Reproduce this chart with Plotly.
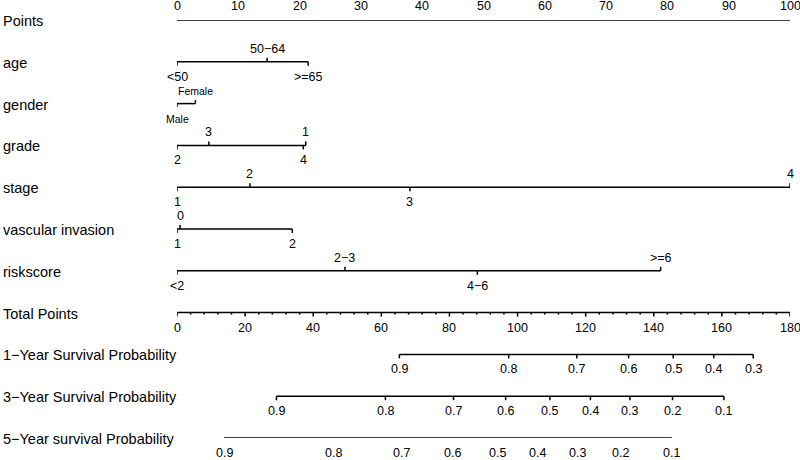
import plotly.graph_objects as go

# ---------------- data ----------------
row_names = ["Points", "age", "gender", "grade", "stage", "vascular invasion",
             "riskscore", "Total Points", "1−Year Survival Probability",
             "3−Year Survival Probability", "5−Year survival Probability"]

points_major = list(range(0, 101, 10))
points_minor = [i * 2.5 for i in range(0, 41)]

age_labels = ["<50", "50−64", ">=65"]
age_points = [0, 14.7, 21.4]
age_side = ["below", "above", "below"]

gender_labels = ["Male", "Female"]
gender_points = [0, 3.0]
gender_side = ["below", "above"]

grade_labels = ["2", "3", "4", "1"]
grade_points = [0, 5.2, 20.6, 21.0]
grade_side = ["below", "above", "below", "above"]

stage_labels = ["1", "2", "3", "4"]
stage_points = [0, 11.9, 38.0, 100]
stage_side = ["below", "above", "below", "above"]

vasc_labels = ["1", "0", "2"]
vasc_points = [0, 0.5, 18.8]
vasc_side = ["below", "above", "below"]

risk_labels = ["<2", "2−3", "4−6", ">=6"]
risk_points = [0, 27.4, 49.0, 78.9]
risk_side = ["below", "above", "below", "above"]

total_major = list(range(0, 181, 20))
total_minor = list(range(0, 181, 4))

surv1_labels = ["0.9", "0.8", "0.7", "0.6", "0.5", "0.4", "0.3"]
surv1_total = [65.3, 97.4, 117.4, 132.6, 145.7, 157.6, 169.2]

surv3_labels = ["0.9", "0.8", "0.7", "0.6", "0.5", "0.4", "0.3", "0.2", "0.1"]
surv3_total = [29.2, 61.2, 81.2, 96.5, 109.5, 121.4, 133.0, 145.5, 160.6]

surv5_labels = ["0.9", "0.8", "0.7", "0.6", "0.5", "0.4", "0.3", "0.2", "0.1"]
surv5_total = [13.8, 45.9, 65.9, 81.0, 94.2, 105.9, 117.7, 130.1, 145.3]

# ---------------- layout constants ----------------
W, H = 800, 460
ML, MR, MT, MB = 177, 10, 20, 22
ROW_PX = (H - MT - MB) / 10.0
FONT = "Liberation Sans, Arial, Helvetica, sans-serif"
LW = 1.5
TICK = 4.0
TICKFONT = 12.5
ROWFONT = 14.5

fig = go.Figure()
annotations = []


def seg_trace(xs, ys, xaxis="x"):
    fig.add_trace(go.Scatter(x=xs, y=ys, mode="lines", xaxis=xaxis, yaxis="y",
                             line=dict(color="black", width=LW), hoverinfo="skip",
                             showlegend=False, cliponaxis=False))


def scale_row(row, xs, labels, sides, xaxis="x", fsize=TICKFONT, tick=TICK):
    seg_trace([min(xs), max(xs)], [row, row], xaxis)
    tx, ty = [], []
    for x, s in zip(xs, sides):
        d = tick / ROW_PX
        tx += [x, x, None]
        ty += [row, row - d if s == "above" else row + d, None]
    seg_trace(tx, ty, xaxis)
    for x, lab, s in zip(xs, labels, sides):
        annotations.append(dict(x=x, y=row, xref=xaxis, yref="y", text=lab,
                                showarrow=False, xanchor="center", yanchor="middle",
                                yshift=13 if s == "above" else -15,
                                font=dict(family=FONT, size=fsize, color="black")))


# Points axis (row 0): ticks up, labels above
seg_trace([0, 100], [0, 0])
tx, ty = [], []
for v in points_minor:
    L = 5.0 if v in points_major else 2.5
    tx += [v, v, None]
    ty += [0, -L / ROW_PX, None]
seg_trace(tx, ty)
for v in points_major:
    annotations.append(dict(x=v, y=0, xref="x", yref="y", text=str(v), showarrow=False,
                            xanchor="center", yanchor="middle", yshift=14,
                            font=dict(family=FONT, size=TICKFONT, color="black")))

scale_row(1, age_points, age_labels, age_side)
scale_row(2, gender_points, gender_labels, gender_side, fsize=10.5, tick=3.5)
scale_row(3, grade_points, grade_labels, grade_side)
scale_row(4, stage_points, stage_labels, stage_side)
scale_row(5, vasc_points, vasc_labels, vasc_side)
scale_row(6, risk_points, risk_labels, risk_side)

# Total points axis (row 7): ticks down, labels below
seg_trace([0, 180], [7, 7], "x2")
tx, ty = [], []
for v in total_minor:
    L = 4.0 if v in total_major else 2.0
    tx += [v, v, None]
    ty += [7, 7 + L / ROW_PX, None]
seg_trace(tx, ty, "x2")
for v in total_major:
    annotations.append(dict(x=v, y=7, xref="x2", yref="y", text=str(v), showarrow=False,
                            xanchor="center", yanchor="middle", yshift=-15,
                            font=dict(family=FONT, size=TICKFONT, color="black")))

scale_row(8, surv1_total, surv1_labels, ["below"] * len(surv1_total), "x2")
scale_row(9, surv3_total, surv3_labels, ["below"] * len(surv3_total), "x2")
scale_row(10, surv5_total, surv5_labels, ["below"] * len(surv5_total), "x2")

# Row labels
for i, name in enumerate(row_names):
    annotations.append(dict(x=0, y=i, xref="paper", yref="y", text=name, showarrow=False,
                            xanchor="left", yanchor="middle", xshift=-ML + 1, yshift=-1,
                            font=dict(family=FONT, size=ROWFONT, color="black")))

fig.update_layout(
    width=W, height=H,
    margin=dict(l=ML, r=MR, t=MT, b=MB, autoexpand=False),
    paper_bgcolor="white", plot_bgcolor="white",
    xaxis=dict(range=[0, 100], visible=False, fixedrange=True),
    xaxis2=dict(range=[0, 180], visible=False, overlaying="x", fixedrange=True),
    yaxis=dict(range=[10, 0], visible=False, fixedrange=True),
    annotations=annotations,
    showlegend=False,
)

fig.write_html("out.html", config={"displayModeBar": False},
               post_script="document.body.style.margin='0px';document.body.style.overflow='hidden';")
